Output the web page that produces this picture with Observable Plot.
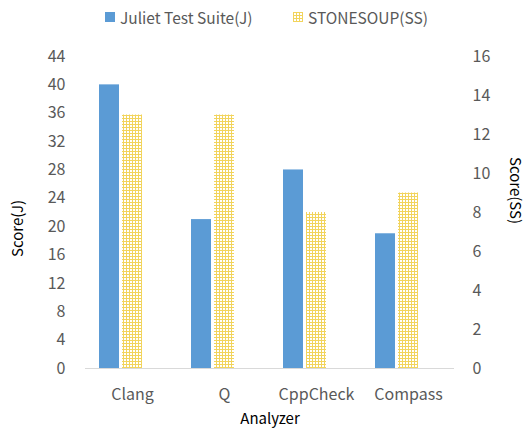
<!DOCTYPE html>
<html>
<head>
<meta charset="utf-8">
<script src="https://cdn.jsdelivr.net/npm/d3@7"></script>
<script src="https://cdn.jsdelivr.net/npm/@observablehq/plot@0.6"></script>
<style>
  html, body { margin: 0; padding: 0; background: #fff; }
  body { width: 528px; height: 428px; overflow: hidden; font-family: "Noto Sans CJK KR", "Noto Sans", sans-serif; }
  #legend { height: 34px; position: relative; font-size: 15.5px; color: #595959; }
  .item { position: absolute; top: 6px; display: flex; align-items: center; white-space: nowrap; }
  .sw { width: 10px; height: 10px; margin-right: 5px; }
</style>
</head>
<body>
<div id="legend">
  <div class="item" style="left:105px"><span class="sw" style="background:#5B9BD5"></span><span>Juliet Test Suite(J)</span></div>
  <div class="item" style="left:293px"><svg class="sw" width="10" height="10"><rect width="10" height="10" fill="url(#hatchL)"/><defs><pattern id="hatchL" width="3" height="3" patternUnits="userSpaceOnUse"><rect width="3" height="3" fill="#fff"/><rect x="0" y="0" width="1" height="3" fill="#F2D45C"/><rect x="0" y="0" width="3" height="1" fill="#F2D45C"/></pattern></defs></svg><span>STONESOUP(SS)</span></div>
</div>
<div id="chart"></div>
<script>
const categories = ["Clang", "Q", "CppCheck", "Compass"];
const julietScores = [40, 21, 28, 19];
const stonesoupScores = [13, 13, 8, 9];
const leftTicks = [0, 4, 8, 12, 16, 20, 24, 28, 32, 36, 40, 44];
const rightTicks = [0, 2, 4, 6, 8, 10, 12, 14, 16];

const ratio = 44 / 16; // secondary axis scaling
const J = categories.map((c, i) => ({cat: c, v: julietScores[i]}));
const SS = categories.map((c, i) => ({cat: c, v: stonesoupScores[i]}));

const W = 528, H = 394;
const chart = Plot.plot({
  width: W,
  height: H,
  marginLeft: 85,
  marginRight: 74,
  marginTop: 22,
  marginBottom: 60,
  style: {fontFamily: '"Noto Sans CJK KR", "Noto Sans", sans-serif', fontSize: "16px", color: "#595959", background: "#fff"},
  x: {domain: categories, padding: 0, label: null},
  y: {domain: [0, 44], label: null},
  marks: [
    Plot.barY(J, {x: "cat", y: "v", fill: "#5B9BD5", insetLeft: 13, insetRight: 59}),
    Plot.barY(SS, {x: "cat", y: d => d.v * ratio, fill: "url(#hatch)", insetLeft: 36, insetRight: 36}),
    Plot.ruleY([0], {stroke: "#D9D9D9", strokeWidth: 1}),
    Plot.axisX({tickSize: 0, tickPadding: 20, label: null, fill: "#595959"}),
    Plot.axisY({ticks: leftTicks, tickSize: 0, tickPadding: 20, label: null, fill: "#595959"}),
    Plot.axisY({anchor: "right", ticks: rightTicks.map(t => t * ratio), tickFormat: (d, i) => rightTicks[i], tickSize: 0, tickPadding: 18, label: null, fill: "#595959", textAnchor: "start"}),
    Plot.text(["Analyzer"], {frameAnchor: "bottom", dy: 55, fill: "#000", fontSize: 15}),
    Plot.text(["Score(J)"], {frameAnchor: "left", textAnchor: "middle", dx: -67, dy: 16, rotate: -90, fill: "#000", fontSize: 15}),
    Plot.text(["Score(SS)"], {frameAnchor: "right", textAnchor: "middle", dx: 60, dy: -22, rotate: 90, fill: "#000", fontSize: 15})
  ]
});
const ns = "http://www.w3.org/2000/svg";
const defs = document.createElementNS(ns, "defs");
defs.innerHTML = '<pattern id="hatch" width="3" height="3" patternUnits="userSpaceOnUse"><rect width="3" height="3" fill="#fff"/><rect x="0" y="0" width="1" height="3" fill="#F2D45C"/><rect x="0" y="0" width="3" height="1" fill="#F2D45C"/></pattern>';
chart.insertBefore(defs, chart.firstChild);
document.getElementById("chart").appendChild(chart);
</script>
</body>
</html>
